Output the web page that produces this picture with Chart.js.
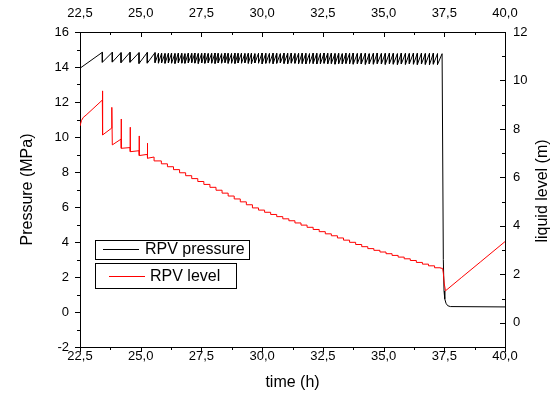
<!DOCTYPE html>
<html>
<head>
<meta charset="utf-8">
<script src="https://cdn.jsdelivr.net/npm/chart.js@4.4.1/dist/chart.umd.min.js"></script>
<style>
html,body{margin:0;padding:0;background:#fff;}
#wrap{width:560px;height:398px;position:relative;}
</style>
</head>
<body>
<div id="wrap"><canvas id="chart"></canvas></div>
<script>
// axis ticks
var xMajor=[22.5,25,27.5,30,32.5,35,37.5,40];
var xMinor=[23.75,26.25,28.75,31.25,33.75,36.25,38.75];
var yMajor=[-2,0,2,4,6,8,10,12,14,16];
var yMinor=[-1,1,3,5,7,9,11,13,15];
var y1Major=[0,2,4,6,8,10,12];
var y1Minor=[-1,1,3,5,7,9,11];

// RPV pressure (MPa): start, then sawtooth peaks (rise to hi, drop to lo), then depressurisation
var pressStart=[22.5,13.93];
var cycleT=[23.42,23.83,24.19,24.56,24.93,25.27,25.59,
  25.73,25.86,26.00,26.14,26.27,26.41,26.55,26.69,26.82,26.96,
  27.10,27.23,27.37,27.51,27.64,27.78,27.92,28.06,28.19,28.33,
  28.47,28.60,28.74,28.88,29.01,29.15,29.29,29.43,29.56,29.70,
  29.85,30.00,30.15,30.30,30.45,30.60,30.75,30.90,31.05,31.20,
  31.35,31.50,31.65,31.80,31.95,32.10,32.25,32.40,32.55,32.70,
  32.85,33.00,33.15,33.30,33.45,33.60,33.75,
  33.92,34.08,34.25,34.41,34.58,34.74,34.91,35.07,35.24,35.40,
  35.57,35.73,35.90,36.06,36.23,36.39,36.56,36.72,36.89,37.05,37.22];
var cycleHi=[14.84,14.84,14.82,14.84,14.82,14.83,14.82,14.78,14.79,14.77,
  14.78,14.80,14.77,14.79,14.78,14.76,14.79,14.78,14.80,14.77,
  14.78,14.79,14.77,14.78,14.80,14.78,14.76,14.79,14.78,14.77,
  14.79,14.78,14.80,14.77,14.78,14.79,14.76,14.78,14.80,14.78,
  14.77,14.79,14.78,14.76,14.79,14.78,14.80,14.77,14.78,14.79,
  14.78,14.76,14.79,14.78,14.77,14.80,14.78,14.79,14.77,14.78,
  14.76,14.79,14.78,14.80,14.77,14.78,14.79,14.76,14.78,14.80,
  14.77,14.78,14.79,14.78,14.76,14.79,14.78,14.77,14.80,14.78,
  14.79,14.77,14.78,14.79,14.76];
var cycleLo=[14.27,14.28,14.25,14.27,14.20,14.22,14.25,14.22,14.24,14.21,
  14.23,14.22,14.20,14.24,14.22,14.21,14.23,14.25,14.22,14.20,
  14.23,14.21,14.24,14.22,14.20,14.23,14.22,14.25,14.21,14.22,
  14.20,14.23,14.22,14.24,14.21,14.20,14.23,14.22,14.18,14.21,
  14.22,14.19,14.21,14.23,14.20,14.18,14.22,14.21,14.19,14.20,
  14.18,14.21,14.20,14.17,14.19,14.21,14.18,14.20,14.16,14.19,
  14.17,14.20,14.18,14.16,14.19,14.17,14.15,14.18,14.16,14.19,
  14.17,14.15,14.18,14.16,14.14,14.17,14.15,14.18,14.16,14.14,
  14.17,14.15,14.13,14.16,14.14];
var pressTailT=[37.41,37.46,37.49,37.52,37.57,37.64,37.75,40.0];
var pressTailV=[14.76,3.0,1.2,0.75,0.5,0.36,0.31,0.29];

// RPV level (m)
var levelT=[22.5,22.56,22.64,22.75,23.42,23.42,23.44,23.80,23.81,23.83,24.19,24.19,24.21,
  24.56,24.56,24.58,24.93,24.93,24.95,25.27,25.27,25.29,25.55];
var levelV=[8.12,8.35,8.48,8.57,9.19,9.57,7.75,8.03,8.89,7.34,7.58,8.41,7.20,
  7.23,8.07,7.06,7.10,7.71,6.90,6.95,7.41,6.79,6.84];
var stepT=[25.55,25.85,26.10,26.35,26.60,26.85,27.10,27.35,27.60,27.85,
  28.10,28.35,28.60,28.85,29.10,29.35,29.60,29.85,30.10,30.35,
  30.60,30.85,31.10,31.35,31.60,31.85,32.10,32.35,32.60,32.85,
  33.10,33.35,33.60,33.85,34.10,34.35,34.60,34.85,35.10,35.35,
  35.60,35.85,36.10,36.35,36.60,36.85,37.10,37.35,37.43];
var stepV=[6.84,6.68,6.56,6.44,6.32,6.19,6.07,5.95,5.83,5.71,
  5.59,5.47,5.35,5.23,5.11,4.99,4.87,4.74,4.65,4.56,
  4.47,4.38,4.29,4.21,4.12,4.03,3.94,3.85,3.76,3.67,
  3.59,3.50,3.41,3.32,3.23,3.14,3.06,2.99,2.92,2.85,
  2.78,2.71,2.64,2.57,2.49,2.42,2.35,2.27,2.25];
var levelTailT=[37.43,37.46,37.50,37.55,38.2,39.0,40.0];
var levelTailV=[2.25,2.05,1.6,1.32,1.86,2.52,3.35];

var pts=function(ts,vs){
  return ts.map(function(t,i){return {x:t,y:vs[i]};});
};

var pressPts=[{x:pressStart[0],y:pressStart[1]}];
cycleT.forEach(function(t,i){
  pressPts.push({x:t,y:cycleHi[i]});
  pressPts.push({x:t,y:cycleLo[i]});
});
pressPts=pressPts.concat(pts(pressTailT,pressTailV));

var fmtX=function(v){return Number(v).toFixed(1).replace('.',',');};
var setTicks=function(list){
  return function(sc){sc.ticks=list.map(function(v){return {value:v};});};
};

// outward ticks on left/bottom, inward on top/right, plus legend and right title
var decor={
  id:'decor',
  afterDraw:function(chart){
    var ctx=chart.ctx,a=chart.chartArea,s=chart.scales;
    ctx.save();
    ctx.strokeStyle='#000';ctx.lineWidth=1;
    ctx.beginPath();
    var xt=function(vals,len){
      vals.forEach(function(v){
        var p=Math.round(s.x.getPixelForValue(v))+0.5;
        ctx.moveTo(p,a.bottom);ctx.lineTo(p,a.bottom+len);
        ctx.moveTo(p,a.top);ctx.lineTo(p,a.top+len);
      });
    };
    var yt=function(vals,len){
      vals.forEach(function(v){
        var p=Math.round(s.y.getPixelForValue(v))+0.5;
        ctx.moveTo(a.left-len,p);ctx.lineTo(a.left,p);
      });
    };
    var y1t=function(vals,len){
      vals.forEach(function(v){
        var p=Math.round(s.y1.getPixelForValue(v))+0.5;
        ctx.moveTo(a.right-len,p);ctx.lineTo(a.right,p);
      });
    };
    xt(xMajor,5);xt(xMinor,3);
    yt(yMajor,5);yt(yMinor,3);
    y1t(y1Major,5);y1t(y1Minor,3);
    ctx.stroke();

    // right axis title
    ctx.fillStyle='#000';
    ctx.font="16px 'Liberation Sans', Arial, sans-serif";
    ctx.textAlign='center';ctx.textBaseline='middle';
    ctx.save();
    ctx.translate(543,191);ctx.rotate(-Math.PI/2);
    ctx.fillText('liquid level (m)',0,0);
    ctx.restore();

    // legend boxes
    ctx.textAlign='left';
    ctx.fillStyle='#fff';
    ctx.fillRect(95,240,154,19);ctx.fillRect(95,263,141,25);
    ctx.strokeStyle='#000';
    ctx.strokeRect(95.5,240.5,154,19);
    ctx.strokeRect(95.5,263.5,141,25);
    ctx.beginPath();ctx.moveTo(103,249.5);ctx.lineTo(139,249.5);ctx.stroke();
    ctx.strokeStyle='#ff0000';
    ctx.beginPath();ctx.moveTo(109,276.5);ctx.lineTo(145,276.5);ctx.stroke();
    ctx.fillStyle='#000';
    ctx.fillText('RPV pressure',145,250);
    ctx.fillText('RPV level',150,277);
    ctx.restore();
  }
};

Chart.defaults.font.family="'Liberation Sans', Arial, sans-serif";
Chart.defaults.color='#000';

var lineDs=function(data,color,axis,extra){
  var d={data:data,borderColor:color,borderWidth:1,pointRadius:0,tension:0,fill:false,yAxisID:axis};
  if(extra){for(var k in extra){d[k]=extra[k];}}
  return d;
};

new Chart(document.getElementById('chart'),{
  type:'line',
  data:{
    datasets:[
      lineDs(pts(levelT,levelV),'#ff0000','y1'),
      lineDs(pts(stepT,stepV),'#ff0000','y1',{stepped:'after'}),
      lineDs(pts(levelTailT,levelTailV),'#ff0000','y1'),
      lineDs(pressPts,'#000000','y')
    ]
  },
  options:{
    responsive:true,
    maintainAspectRatio:false,
    animation:false,
    layout:{padding:0},
    plugins:{legend:{display:false},tooltip:{enabled:false}},
    scales:{
      x:{type:'linear',position:'bottom',min:22.5,max:40,
        grid:{display:false,drawTicks:false},
        border:{display:true,color:'#000',width:1},
        ticks:{color:'#000',font:{size:13},padding:2,maxRotation:0,autoSkip:false,callback:fmtX},
        afterBuildTicks:setTicks(xMajor),
        afterFit:function(sc){sc.height=51;},
        title:{display:true,text:'time (h)',color:'#000',font:{size:16},padding:{top:0,bottom:6}}},
      x2:{type:'linear',axis:'x',position:'top',min:22.5,max:40,
        grid:{display:false,drawTicks:false},
        border:{display:true,color:'#000',width:1},
        ticks:{color:'#000',font:{size:13},padding:11,maxRotation:0,autoSkip:false,callback:fmtX},
        afterBuildTicks:setTicks(xMajor),
        afterFit:function(sc){sc.height=32;}},
      y:{type:'linear',position:'left',min:-2,max:16,
        grid:{display:false,drawTicks:false},
        border:{display:true,color:'#000',width:1},
        ticks:{color:'#000',font:{size:13},padding:11},
        afterBuildTicks:setTicks(yMajor),
        afterFit:function(sc){sc.width=80;},
        title:{display:true,text:'Pressure (MPa)',color:'#000',font:{size:16},padding:{top:18,bottom:0}}},
      y1:{type:'linear',position:'right',min:-1,max:12,
        grid:{display:false,drawTicks:false},
        border:{display:true,color:'#000',width:1},
        ticks:{color:'#000',font:{size:13},padding:8},
        afterBuildTicks:setTicks(y1Major),
        afterFit:function(sc){sc.width=55;}}
    }
  },
  plugins:[decor]
});
</script>
</body>
</html>
